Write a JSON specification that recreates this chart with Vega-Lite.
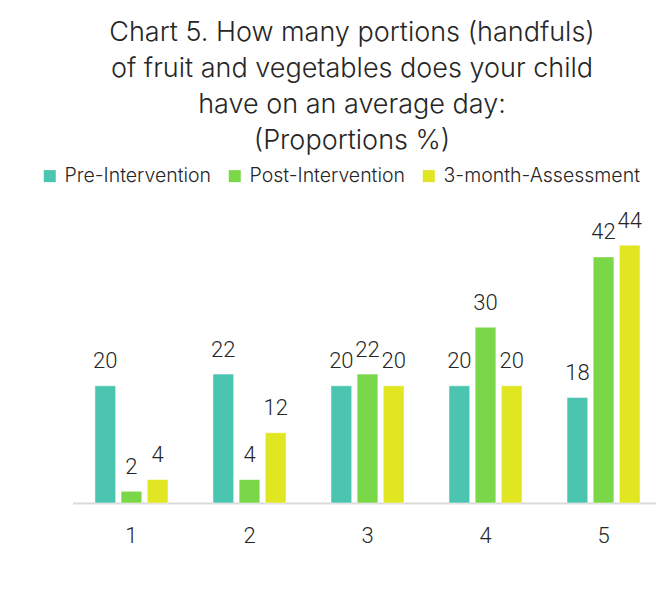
{
  "$schema": "https://vega.github.io/schema/vega-lite/v6.json",
  "width": 590,
  "height": 293,
  "autosize": {"type": "none"},
  "padding": {"left": 72.5, "top": 210, "right": 0, "bottom": 94},
  "background": "white",
  "config": {"view": {"stroke": null}},
  "title": {
    "text": ["Chart 5. How many portions (handfuls)", "of fruit and vegetables does your child", "have on an average day:", "(Proportions %)"],
    "fontSize": 27,
    "font": "Inter",
    "fontWeight": 300,
    "color": "#262626",
    "lineHeight": 36,
    "anchor": "middle",
    "frame": "group",
    "dx": -15.5,
    "offset": 11
  },
  "data": {
    "values": [
      {"portions": "1", "group": "Pre-Intervention", "value": 20},
      {"portions": "1", "group": "Post-Intervention", "value": 2},
      {"portions": "1", "group": "3-month-Assessment", "value": 4},
      {"portions": "2", "group": "Pre-Intervention", "value": 22},
      {"portions": "2", "group": "Post-Intervention", "value": 4},
      {"portions": "2", "group": "3-month-Assessment", "value": 12},
      {"portions": "3", "group": "Pre-Intervention", "value": 20},
      {"portions": "3", "group": "Post-Intervention", "value": 22},
      {"portions": "3", "group": "3-month-Assessment", "value": 20},
      {"portions": "4", "group": "Pre-Intervention", "value": 20},
      {"portions": "4", "group": "Post-Intervention", "value": 30},
      {"portions": "4", "group": "3-month-Assessment", "value": 20},
      {"portions": "5", "group": "Pre-Intervention", "value": 18},
      {"portions": "5", "group": "Post-Intervention", "value": 42},
      {"portions": "5", "group": "3-month-Assessment", "value": 44}
    ]
  },
  "encoding": {
    "x": {
      "field": "portions",
      "type": "nominal",
      "scale": {"paddingInner": 0.381, "paddingOuter": 0.19},
      "axis": {
        "title": null,
        "labelAngle": 0,
        "domainColor": "#d9d9d9",
        "domainWidth": 2,
        "ticks": false,
        "tickSize": 0,
        "labelFontSize": 22,
        "labelFont": "Roboto",
        "labelFontWeight": 300,
        "labelColor": "#262626",
        "labelPadding": 22,
        "grid": false
      }
    },
    "xOffset": {
      "field": "group",
      "type": "nominal",
      "sort": ["Pre-Intervention", "Post-Intervention", "3-month-Assessment"],
      "scale": {"paddingInner": 0.207, "paddingOuter": 0}
    },
    "y": {
      "field": "value",
      "type": "quantitative",
      "scale": {"domain": [0, 50], "nice": false},
      "axis": null
    }
  },
  "layer": [
    {
      "mark": {"type": "bar", "stroke": "white", "strokeWidth": 1, "strokeOpacity": 0.5},
      "encoding": {
        "color": {
          "field": "group",
          "type": "nominal",
          "sort": ["Pre-Intervention", "Post-Intervention", "3-month-Assessment"],
          "scale": {
            "domain": ["Pre-Intervention", "Post-Intervention", "3-month-Assessment"],
            "range": ["#4bc5b0", "#7ad848", "#e0e622"]
          },
          "legend": {
            "orient": "none",
            "legendX": -32.5,
            "legendY": -44,
            "direction": "horizontal",
            "title": null,
            "symbolType": "square",
            "symbolSize": 144,
            "symbolStrokeWidth": 0,
            "labelFontSize": 19.5,
            "labelFont": "Inter",
            "labelFontWeight": 300,
            "labelColor": "#262626",
            "labelOffset": 5,
            "labelLimit": 400,
            "columnPadding": 13
          }
        }
      }
    },
    {
      "mark": {
        "type": "text",
        "baseline": "alphabetic",
        "dy": -17.5,
        "fontSize": 22,
        "font": "Roboto",
        "fontWeight": 300,
        "color": "#262626"
      },
      "encoding": {
        "text": {"field": "value", "type": "quantitative"}
      }
    }
  ]
}
